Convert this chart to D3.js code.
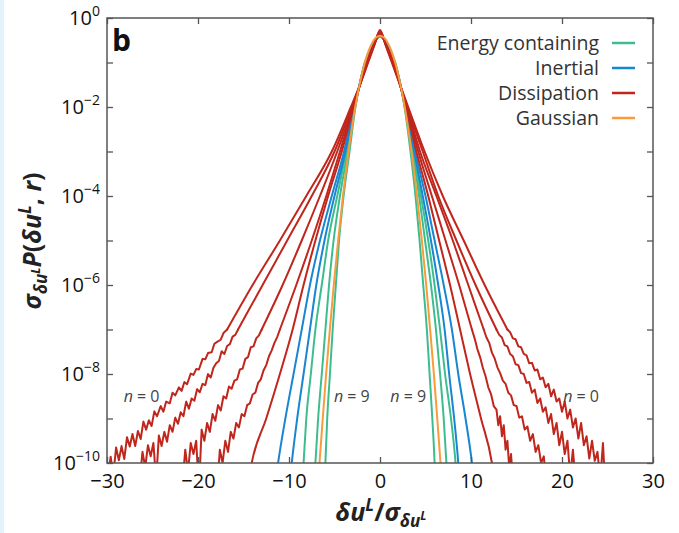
<!DOCTYPE html>
<html>
<head>
<meta charset="utf-8">
<script src="https://cdn.jsdelivr.net/npm/d3@7"></script>
<style>
  html, body { margin: 0; padding: 0; background: #fff; }
  svg { display: block; font-family: "Open Sans", "Noto Sans", sans-serif; }
</style>
</head>
<body>
<svg id="chart" width="679" height="533"></svg>
<script>
// ---------------- data (x = δu/σ, value = log10 of σP) ----------------
const xTickValues = [-30, -20, -10, 0, 10, 20, 30];
const yMajorExponents = [0, -2, -4, -6, -8, -10];
const yAllExponents = [0, -1, -2, -3, -4, -5, -6, -7, -8, -9, -10];
const legendLabels = ["Energy containing", "Inertial", "Dissipation", "Gaussian"];
const curveLabels = [
  { text: "0", x: -26.2, e: -8.5 },
  { text: "9", x: -3.1, e: -8.5 },
  { text: "9", x: 3.1, e: -8.5 },
  { text: "0", x: 22.1, e: -8.5 }
];

// smooth central parts
const curveN0 = [[-16.8,-7.0],[-14.0,-6.0],[-11.0,-5.0],[-8.1,-4.0],[-5.3,-3.0],[-3.2,-2.0],[-2.2,-1.5],[-1.3,-1.0],[-0.6,-0.6],[0,-0.27],
  [0.6,-0.6],[1.3,-1.0],[2.2,-1.5],[3.1,-2.0],[4.9,-3.0],[6.9,-4.0],[9.2,-5.0],[11.5,-6.0],[14.0,-7.0]];
const curveN1 = [[-15.6,-7.0],[-12.9,-6.0],[-10.2,-5.0],[-7.5,-4.0],[-5.0,-3.0],[-3.1,-2.0],[-2.2,-1.5],[-1.35,-1.0],[-0.62,-0.6],[0,-0.29],
  [0.62,-0.6],[1.35,-1.0],[2.2,-1.5],[3.0,-2.0],[4.7,-3.0],[6.4,-4.0],[8.4,-5.0],[10.5,-6.0],[12.8,-7.0]];
const curveN2 = [[-13.0,-7.0],[-10.7,-6.0],[-8.6,-5.0],[-6.6,-4.0],[-4.7,-3.0],[-3.0,-2.0],[-2.2,-1.5],[-1.4,-1.0],[-0.64,-0.6],[0,-0.31],
  [0.64,-0.6],[1.4,-1.0],[2.2,-1.5],[2.95,-2.0],[4.4,-3.0],[6.2,-4.0],[8.0,-5.0],[9.7,-6.0],[11.4,-7.0]];
const curveN3 = [[-11.0,-7.0],[-9.2,-6.0],[-7.5,-5.0],[-5.9,-4.0],[-4.4,-3.0],[-2.95,-2.0],[-2.2,-1.5],[-1.45,-1.0],[-0.66,-0.6],[0,-0.33],
  [0.66,-0.6],[1.45,-1.0],[2.2,-1.5],[2.9,-2.0],[4.2,-3.0],[5.7,-4.0],[7.2,-5.0],[8.7,-6.0],[10.1,-7.0]];
const curveN4 = [[-14.6,-10.6],[-14.1,-10.0],[-12.5,-9.0],[-11.0,-8.0],[-9.6,-7.0],[-8.4,-6.0],[-7.1,-5.0],[-5.7,-4.0],[-4.2,-3.0],[-2.9,-2.0],[-2.2,-1.5],[-1.5,-1.0],[-0.68,-0.6],[0,-0.35],
  [0.68,-0.6],[1.5,-1.0],[2.2,-1.5],[2.85,-2.0],[4.0,-3.0],[5.3,-4.0],[6.5,-5.0],[7.7,-6.0],[8.8,-7.0],[9.9,-8.0],[11.1,-9.0],[12.3,-10.0],[12.7,-10.6]];
const curveN5 = [[-11.6,-10.6],[-11.2,-10.0],[-10.4,-9.0],[-9.5,-8.0],[-8.6,-7.0],[-7.7,-6.0],[-6.6,-5.0],[-5.3,-4.0],[-3.95,-3.0],[-2.85,-2.0],[-2.22,-1.5],[-1.55,-1.0],[-0.72,-0.6],[0,-0.37],
  [0.72,-0.6],[1.55,-1.0],[2.22,-1.5],[2.8,-2.0],[3.85,-3.0],[5.0,-4.0],[6.0,-5.0],[7.0,-6.0],[7.9,-7.0],[8.6,-8.0],[9.4,-9.0],[10.1,-10.0],[10.4,-10.6]];
const curveN6 = [[-10.0,-10.6],[-9.7,-10.0],[-9.1,-9.0],[-8.4,-8.0],[-7.7,-7.0],[-7.0,-6.0],[-6.1,-5.0],[-5.0,-4.0],[-3.8,-3.0],[-2.8,-2.0],[-2.24,-1.5],[-1.6,-1.0],[-0.75,-0.6],[0,-0.39],
  [0.75,-0.6],[1.6,-1.0],[2.24,-1.5],[2.78,-2.0],[3.75,-3.0],[4.7,-4.0],[5.6,-5.0],[6.4,-6.0],[7.1,-7.0],[7.6,-8.0],[8.15,-9.0],[8.6,-10.0],[8.8,-10.6]];
const curveN7 = [[-8.6,-10.6],[-8.4,-10.0],[-8.1,-9.0],[-7.6,-8.0],[-7.1,-7.0],[-6.4,-6.0],[-5.7,-5.0],[-4.7,-4.0],[-3.7,-3.0],[-2.77,-2.0],[-2.25,-1.5],[-1.63,-1.0],[-0.78,-0.6],[0,-0.40],
  [0.78,-0.6],[1.63,-1.0],[2.25,-1.5],[2.75,-2.0],[3.65,-3.0],[4.5,-4.0],[5.3,-5.0],[6.0,-6.0],[6.6,-7.0],[7.15,-8.0],[7.8,-9.0],[8.3,-10.0],[8.5,-10.6]];
const curveN8 = [[-7.25,-10.6],[-7.1,-10.0],[-6.8,-9.0],[-6.4,-8.0],[-6.0,-7.0],[-5.6,-6.0],[-5.1,-5.0],[-4.4,-4.0],[-3.55,-3.0],[-2.74,-2.0],[-2.25,-1.5],[-1.65,-1.0],[-0.8,-0.6],[0,-0.41],
  [0.8,-0.6],[1.65,-1.0],[2.25,-1.5],[2.73,-2.0],[3.55,-3.0],[4.3,-4.0],[4.95,-5.0],[5.6,-6.0],[6.15,-7.0],[6.6,-8.0],[7.0,-9.0],[7.3,-10.0],[7.45,-10.6]];
const curveN9 = [[-6.1,-10.6],[-6.0,-10.0],[-5.8,-9.0],[-5.5,-8.0],[-5.2,-7.0],[-4.85,-6.0],[-4.5,-5.0],[-4.0,-4.0],[-3.35,-3.0],[-2.7,-2.0],[-2.25,-1.5],[-1.67,-1.0],[-0.82,-0.6],[0,-0.42],
  [0.82,-0.6],[1.67,-1.0],[2.25,-1.5],[2.7,-2.0],[3.35,-3.0],[3.9,-4.0],[4.35,-5.0],[4.75,-6.0],[5.15,-7.0],[5.45,-8.0],[5.75,-9.0],[6.0,-10.0],[6.1,-10.6]];
const gaussian = [[-6.85,-10.6],[-6.65,-10.0],[-6.29,-9.0],[-5.92,-8.0],[-5.51,-7.0],[-5.08,-6.0],[-4.60,-5.0],[-4.07,-4.0],[-3.46,-3.0],[-2.72,-2.0],[-2.25,-1.5],[-1.66,-1.0],[-0.96,-0.6],[-0.5,-0.45],[0,-0.40],
  [0.5,-0.45],[0.96,-0.6],[1.66,-1.0],[2.25,-1.5],[2.72,-2.0],[3.46,-3.0],[4.07,-4.0],[4.60,-5.0],[5.08,-6.0],[5.51,-7.0],[5.92,-8.0],[6.29,-9.0],[6.65,-10.0],[6.85,-10.6]];

// noisy far tails
const tailN0Left = [[-16.8,-7.0],[-17.2,-7.08],[-17.5,-7.23],[-17.9,-7.28],[-18.2,-7.32],[-18.5,-7.51],[-18.9,-7.53],[-19.2,-7.67],[-19.5,-7.66],[-19.9,-7.9],[-20.2,-7.89],[-20.5,-8.02],[-20.8,-7.99],[-21.2,-8.23],[-21.5,-8.18],[-21.8,-8.38],[-22.1,-8.3],[-22.5,-8.48],[-22.8,-8.42],[-23.1,-8.66],[-23.5,-8.62],[-23.8,-8.85],[-24.1,-8.72],[-24.5,-8.95],[-24.8,-8.84],[-25.1,-9.17],[-25.4,-9.04],[-25.7,-9.25],[-26.0,-9.07],[-26.3,-9.46],[-26.6,-9.28],[-26.9,-9.62],[-27.2,-9.35],[-27.5,-9.63],[-27.8,-9.42],[-28.1,-9.91],[-28.4,-9.62],[-28.7,-9.94],[-29.0,-9.65],[-29.3,-10.26],[-29.6,-9.86],[-29.9,-10.34],[-30.2,-9.95],[-30.6,-10.7]];
const tailN0Right = [[14.0,-7.0],[14.3,-7.06],[14.6,-7.2],[14.9,-7.22],[15.2,-7.38],[15.5,-7.4],[15.8,-7.55],[16.1,-7.58],[16.4,-7.76],[16.7,-7.75],[17.0,-7.92],[17.3,-7.9],[17.6,-8.12],[17.9,-8.08],[18.2,-8.3],[18.5,-8.22],[18.8,-8.5],[19.1,-8.35],[19.4,-8.62],[19.7,-8.55],[20.0,-8.85],[20.3,-8.62],[20.6,-9.0],[20.9,-8.8],[21.2,-9.2],[21.5,-9.0],[21.8,-9.45],[22.1,-9.1],[22.4,-9.6],[22.7,-9.4],[23.0,-9.9],[23.3,-9.5],[23.6,-9.95],[23.9,-9.75],[24.2,-10.4],[24.5,-9.55],[24.8,-10.7]];
const tailN1Left = [[-15.6,-7.0],[-15.9,-7.12],[-16.2,-7.16],[-16.5,-7.33],[-16.8,-7.37],[-17.1,-7.55],[-17.4,-7.49],[-17.7,-7.71],[-18.0,-7.76],[-18.3,-7.86],[-18.6,-8.08],[-18.9,-8.0],[-19.2,-8.25],[-19.5,-8.22],[-19.8,-8.41],[-20.1,-8.34],[-20.4,-8.6],[-20.7,-8.55],[-21.0,-8.78],[-21.3,-8.62],[-21.6,-8.95],[-21.9,-8.86],[-22.2,-9.12],[-22.5,-8.98],[-22.8,-9.3],[-23.1,-9.15],[-23.4,-9.52],[-23.7,-9.3],[-24.0,-9.62],[-24.3,-9.38],[-24.6,-10.4],[-24.9,-9.55],[-25.2,-9.85],[-25.5,-9.6],[-25.8,-10.1],[-26.1,-9.75],[-26.5,-10.6]];
const tailN1Right = [[12.8,-7.0],[13.1,-7.12],[13.4,-7.18],[13.7,-7.35],[14.0,-7.38],[14.3,-7.55],[14.6,-7.6],[14.9,-7.78],[15.2,-7.8],[15.5,-7.98],[15.8,-8.0],[16.1,-8.2],[16.4,-8.18],[16.7,-8.42],[17.0,-8.35],[17.3,-8.65],[17.6,-8.55],[17.9,-8.85],[18.2,-8.75],[18.5,-9.1],[18.8,-8.9],[19.1,-9.35],[19.4,-9.1],[19.7,-9.6],[20.0,-9.3],[20.3,-9.8],[20.6,-9.5],[20.9,-10.3],[21.2,-9.7],[21.6,-10.7]];
const tailN2Left = [[-13.0,-7.0],[-13.3,-7.13],[-13.6,-7.2],[-13.9,-7.38],[-14.2,-7.4],[-14.5,-7.62],[-14.8,-7.66],[-15.1,-7.88],[-15.4,-7.9],[-15.7,-8.12],[-16.0,-8.15],[-16.3,-8.33],[-16.6,-8.28],[-16.9,-8.55],[-17.2,-8.5],[-17.5,-8.82],[-17.8,-8.7],[-18.1,-9.05],[-18.4,-8.9],[-18.7,-9.3],[-19.0,-9.1],[-19.3,-9.5],[-19.6,-9.25],[-19.9,-10.6],[-20.2,-9.5],[-20.5,-9.8],[-20.8,-9.55],[-21.1,-10.2],[-21.4,-9.7],[-21.8,-10.7]];
const tailN2Right = [[11.4,-7.0],[11.7,-7.18],[12.0,-7.3],[12.3,-7.52],[12.6,-7.65],[12.9,-7.85],[13.2,-7.98],[13.5,-8.15],[13.8,-8.22],[14.1,-8.42],[14.4,-8.48],[14.7,-8.7],[15.0,-8.72],[15.3,-8.98],[15.6,-8.95],[15.9,-9.25],[16.2,-9.18],[16.5,-9.5],[16.8,-9.35],[17.1,-9.75],[17.4,-9.6],[17.7,-10.0],[18.0,-9.85],[18.4,-10.7]];
const tailN3Left = [[-11.0,-7.0],[-11.3,-7.17],[-11.6,-7.3],[-11.9,-7.47],[-12.2,-7.6],[-12.5,-7.8],[-12.8,-7.92],[-13.1,-8.12],[-13.4,-8.2],[-13.7,-8.42],[-14.0,-8.46],[-14.3,-8.66],[-14.6,-8.7],[-14.9,-8.95],[-15.2,-8.9],[-15.5,-9.2],[-15.8,-9.1],[-16.1,-9.45],[-16.4,-9.3],[-16.7,-9.75],[-17.0,-9.5],[-17.3,-10.0],[-17.6,-9.7],[-17.9,-10.6]];
const tailN3Right = [[10.1,-7.0],[10.4,-7.2],[10.7,-7.44],[11.0,-7.62],[11.3,-7.86],[11.6,-8.05],[11.9,-8.3],[12.2,-8.45],[12.5,-8.72],[12.8,-8.8],[13.0,-9.15],[13.2,-8.95],[13.4,-9.4],[13.6,-9.15],[13.8,-9.7],[14.0,-9.5],[14.2,-10.1],[14.4,-9.8],[14.7,-10.7]];

// series grouping (drawn energy-containing first, Gaussian last)
const seriesList = [
  { core: curveN9, tails: [], group: "Energy containing" },
  { core: curveN8, tails: [], group: "Energy containing" },
  { core: curveN7, tails: [], group: "Energy containing" },
  { core: curveN6, tails: [], group: "Inertial" },
  { core: curveN5, tails: [], group: "Inertial" },
  { core: curveN4, tails: [], group: "Dissipation" },
  { core: curveN3, tails: [tailN3Left, tailN3Right], group: "Dissipation" },
  { core: curveN2, tails: [tailN2Left, tailN2Right], group: "Dissipation" },
  { core: curveN1, tails: [tailN1Left, tailN1Right], group: "Dissipation" },
  { core: curveN0, tails: [tailN0Left, tailN0Right], group: "Dissipation" },
  { core: gaussian, tails: [], group: "Gaussian" }
];

// ---------------- styles ----------------
const colors = {
  "Energy containing": "#3dbd8e",
  "Inertial": "#1886d2",
  "Dissipation": "#c0261c",
  "Gaussian": "#f89b3c"
};
const axisColor = "#555";
const textColor = "#333";
const margin = { left: 107, right: 653, top: 18, bottom: 463 };

const svg = d3.select("#chart");

// pale strip on the left page edge
svg.append("rect").attr("x", 0).attr("y", 0).attr("width", 4).attr("height", 533).attr("fill", "#e4f3fb");

const x = d3.scaleLinear().domain([-30, 30]).range([margin.left, margin.right]);
const y = d3.scaleLog().domain([1e-10, 1]).range([margin.bottom, margin.top]);

svg.append("clipPath").attr("id", "plotclip")
  .append("rect")
  .attr("x", margin.left).attr("y", margin.top)
  .attr("width", margin.right - margin.left).attr("height", margin.bottom - margin.top);

const smoothLine = d3.line()
  .x(d => x(d[0]))
  .y(d => y(Math.pow(10, d[1])))
  .curve(d3.curveMonotoneX);
const noisyLine = d3.line()
  .x(d => x(d[0]))
  .y(d => y(Math.pow(10, d[1])))
  .curve(d3.curveLinear);

const plot = svg.append("g").attr("clip-path", "url(#plotclip)");
const sg = plot.selectAll("g.series")
  .data(seriesList)
  .join("g")
  .attr("class", "series")
  .attr("fill", "none")
  .attr("stroke", d => colors[d.group])
  .attr("stroke-width", 2)
  .attr("stroke-linejoin", "round")
  .attr("stroke-linecap", "round");
sg.append("path").attr("d", d => smoothLine(d.core));
sg.selectAll("path.tail")
  .data(d => d.tails)
  .join("path")
  .attr("class", "tail")
  .attr("d", d => noisyLine(d));

// ---------------- axes ----------------
const tickVals = yAllExponents.map(e => Math.pow(10, e));
function styleAxis(g) {
  g.select(".domain").remove();
  g.selectAll(".tick line").attr("stroke", axisColor).attr("stroke-width", 1.3);
  g.selectAll("text").attr("fill", "#111").attr("font-size", 20)
    .attr("font-family", "'Open Sans', 'Noto Sans', sans-serif");
}
svg.append("g").attr("transform", `translate(0,${margin.bottom})`)
  .call(d3.axisBottom(x).tickValues(xTickValues).tickSize(-6).tickPadding(11).tickFormat(d3.format("d")))
  .call(styleAxis);
svg.append("g").attr("transform", `translate(0,${margin.top})`)
  .call(d3.axisTop(x).tickValues(xTickValues).tickSize(-6).tickFormat(""))
  .call(styleAxis);
svg.append("g").attr("transform", `translate(${margin.left},0)`)
  .call(d3.axisLeft(y).tickValues(tickVals).tickSize(-6).tickFormat(""))
  .call(styleAxis);
svg.append("g").attr("transform", `translate(${margin.right},0)`)
  .call(d3.axisRight(y).tickValues(tickVals).tickSize(-6).tickFormat(""))
  .call(styleAxis);

// frame
svg.append("rect")
  .attr("x", margin.left).attr("y", margin.top)
  .attr("width", margin.right - margin.left).attr("height", margin.bottom - margin.top)
  .attr("fill", "none").attr("stroke", axisColor).attr("stroke-width", 1.5);

// y tick labels 10^e
const ylab = svg.append("g").selectAll("text")
  .data(yMajorExponents)
  .join("text")
  .attr("x", 100)
  .attr("y", d => y(Math.pow(10, d)) + 7)
  .attr("text-anchor", "end")
  .attr("fill", "#111")
  .attr("font-size", 20);
ylab.append("tspan").text("10");
ylab.append("tspan").attr("font-size", 14).attr("dy", -9)
  .text(d => d === 0 ? "0" : "\u2212" + Math.abs(d));

// ---------------- labels ----------------
const xl = svg.append("text")
  .attr("x", 381).attr("y", 521)
  .attr("text-anchor", "middle")
  .attr("font-weight", "bold").attr("font-size", 25).attr("fill", "#222");
xl.append("tspan").attr("font-style", "italic").text("δu");
xl.append("tspan").attr("font-style", "italic").attr("font-size", 17).attr("dy", -10).text("L");
xl.append("tspan").attr("dy", 10).text("/");
xl.append("tspan").attr("font-style", "italic").text("σ");
xl.append("tspan").attr("font-style", "italic").attr("font-size", 17).attr("dy", 6).text("δu");
xl.append("tspan").attr("font-style", "italic").attr("font-size", 12).attr("dy", -7).text("L");

const yl = svg.append("text")
  .attr("transform", "translate(41,241) rotate(-90)")
  .attr("text-anchor", "middle")
  .attr("font-weight", "bold").attr("font-size", 25).attr("fill", "#222");
yl.append("tspan").attr("font-style", "italic").text("σ");
yl.append("tspan").attr("font-style", "italic").attr("font-size", 17).attr("dy", 6).text("δu");
yl.append("tspan").attr("font-style", "italic").attr("font-size", 12).attr("dy", -7).text("L");
yl.append("tspan").attr("font-style", "italic").attr("dy", 1).text("P");
yl.append("tspan").text("(");
yl.append("tspan").attr("font-style", "italic").text("δu");
yl.append("tspan").attr("font-style", "italic").attr("font-size", 17).attr("dy", -10).text("L");
yl.append("tspan").attr("dy", 10).text(", ");
yl.append("tspan").attr("font-style", "italic").text("r");
yl.append("tspan").text(")");

// panel letter
svg.append("text").attr("x", 112).attr("y", 51)
  .attr("font-weight", "bold").attr("font-size", 30).attr("fill", "#111")
  .text("b");

// n labels
const nl = svg.append("g").selectAll("text")
  .data(curveLabels)
  .join("text")
  .attr("x", d => x(d.x))
  .attr("y", d => y(Math.pow(10, d.e)) + 6)
  .attr("text-anchor", "middle")
  .attr("font-size", 16).attr("fill", "#444");
nl.append("tspan").attr("font-style", "italic").text("n");
nl.append("tspan").text(d => " = " + d.text);

// legend
const lg = svg.append("g").selectAll("g")
  .data(legendLabels)
  .join("g")
  .attr("transform", (d, i) => `translate(0,${43 + i * 25})`);
lg.append("text").attr("x", 599).attr("y", 6.5)
  .attr("text-anchor", "end").attr("font-size", 19.5).attr("fill", textColor)
  .text(d => d);
lg.append("line").attr("x1", 612).attr("x2", 635).attr("y1", 0).attr("y2", 0)
  .attr("stroke", d => colors[d]).attr("stroke-width", 2.5);
</script>
</body>
</html>
